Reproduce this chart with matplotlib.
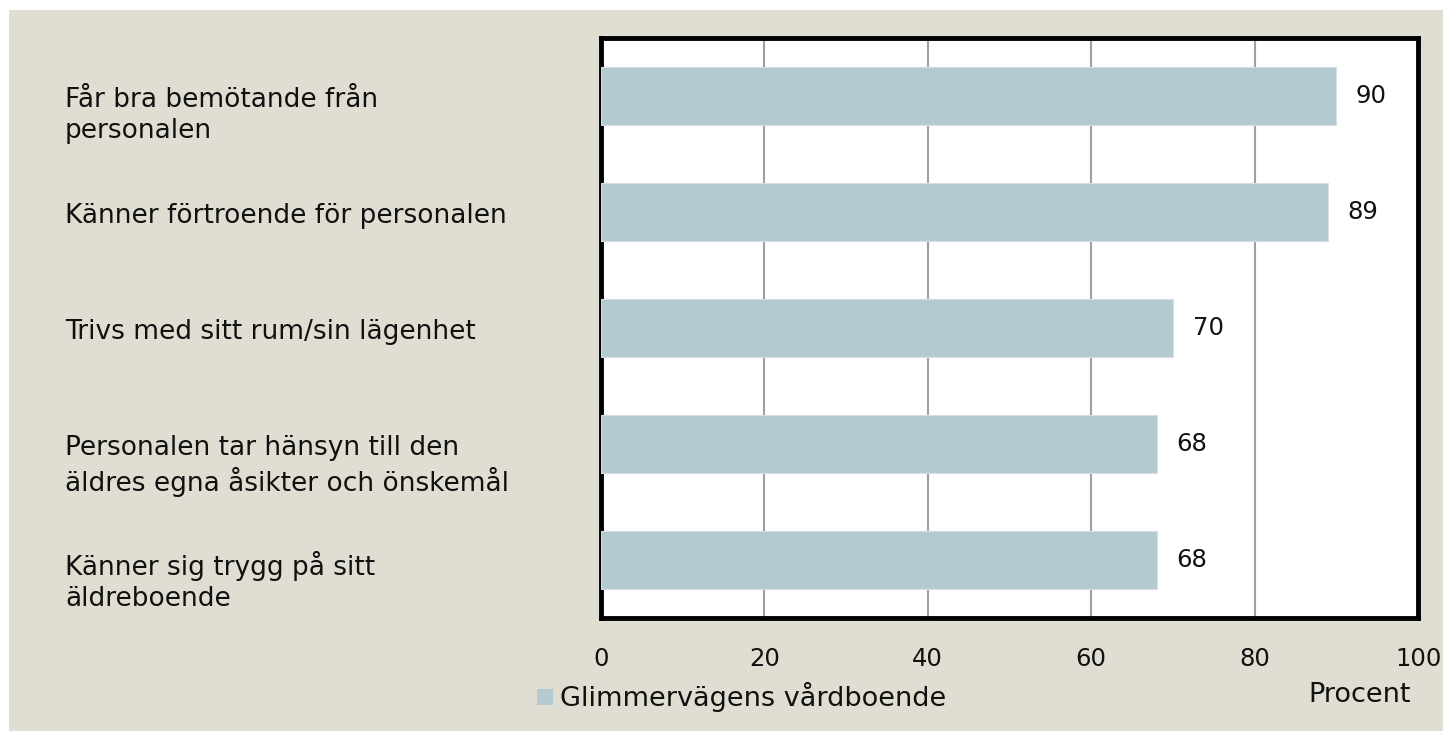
import matplotlib
matplotlib.use('Agg')
import matplotlib.pyplot as plt
from matplotlib.patches import Rectangle

categories = [
    'Får bra bemötande från\npersonalen',
    'Känner förtroende för personalen',
    'Trivs med sitt rum/sin lägenhet',
    'Personalen tar hänsyn till den\näldres egna åsikter och önskemål',
    'Känner sig trygg på sitt\näldreboende',
]
values = [90, 89, 70, 68, 68]
series_name = 'Glimmervägens vårdboende'
xticks = [0, 20, 40, 60, 80, 100]

bg = '#E0DED3'
bar_color = '#B5C9D1'
W, H = 1452, 741

plt.rcParams['font.family'] = ['DejaVu Sans']
fig = plt.figure(figsize=(W / 100, H / 100), dpi=100, facecolor='white')
fig.patches.append(Rectangle((9 / W, 10 / H), (1443 - 9) / W, (731 - 10) / H,
                             transform=fig.transFigure, facecolor=bg,
                             edgecolor='none', zorder=-10))

ax = fig.add_axes([601 / W, 1 - 618 / H, (1418 - 601) / W, (618 - 38) / H])
ax.set_facecolor('white')
ypos = list(range(len(categories)))
ax.barh(ypos, values, height=0.5, color=bar_color, edgecolor='#D4E0E5',
        linewidth=0.8, zorder=3)
ax.set_xlim(0, 100)
ax.set_ylim(len(categories) - 0.5, -0.5)
ax.set_xticks(xticks)
ax.set_xticklabels([str(t) for t in xticks], fontsize=17.5, color='#111111')
ax.tick_params(axis='x', length=0, pad=21)
ax.set_yticks([])
for x in xticks[1:-1]:
    ax.axvline(x, color='#A0A0A0', linewidth=1.5, zorder=1)
for s in ax.spines.values():
    s.set_linewidth(3.5)
    s.set_color('black')

for y, v in zip(ypos, values):
    ax.text(v + 2.4, y, str(v), va='center', ha='left', fontsize=17.5, color='#111111')

# category labels: first line sits slightly below the bar centre
for y, lab in zip(ypos, categories):
    ypix = ax.transData.transform((0, y))[1] + 9
    ax.text(65 / W, ypix / H, lab,
            transform=fig.transFigure, ha='left', va='top',
            fontsize=19, color='#111111', linespacing=1.25)

fig.patches.append(Rectangle((537 / W, 1 - 705 / H), 16 / W, 16 / H,
                             transform=fig.transFigure, facecolor=bar_color,
                             edgecolor='none'))
fig.text(560 / W, 1 - 697 / H, series_name, ha='left', va='center',
         fontsize=19.5, color='#111111')
fig.text(1360 / W, 1 - 695 / H, 'Procent', ha='center', va='center',
         fontsize=19.5, color='#111111')

fig.savefig('out.png', dpi=100, facecolor='white')
